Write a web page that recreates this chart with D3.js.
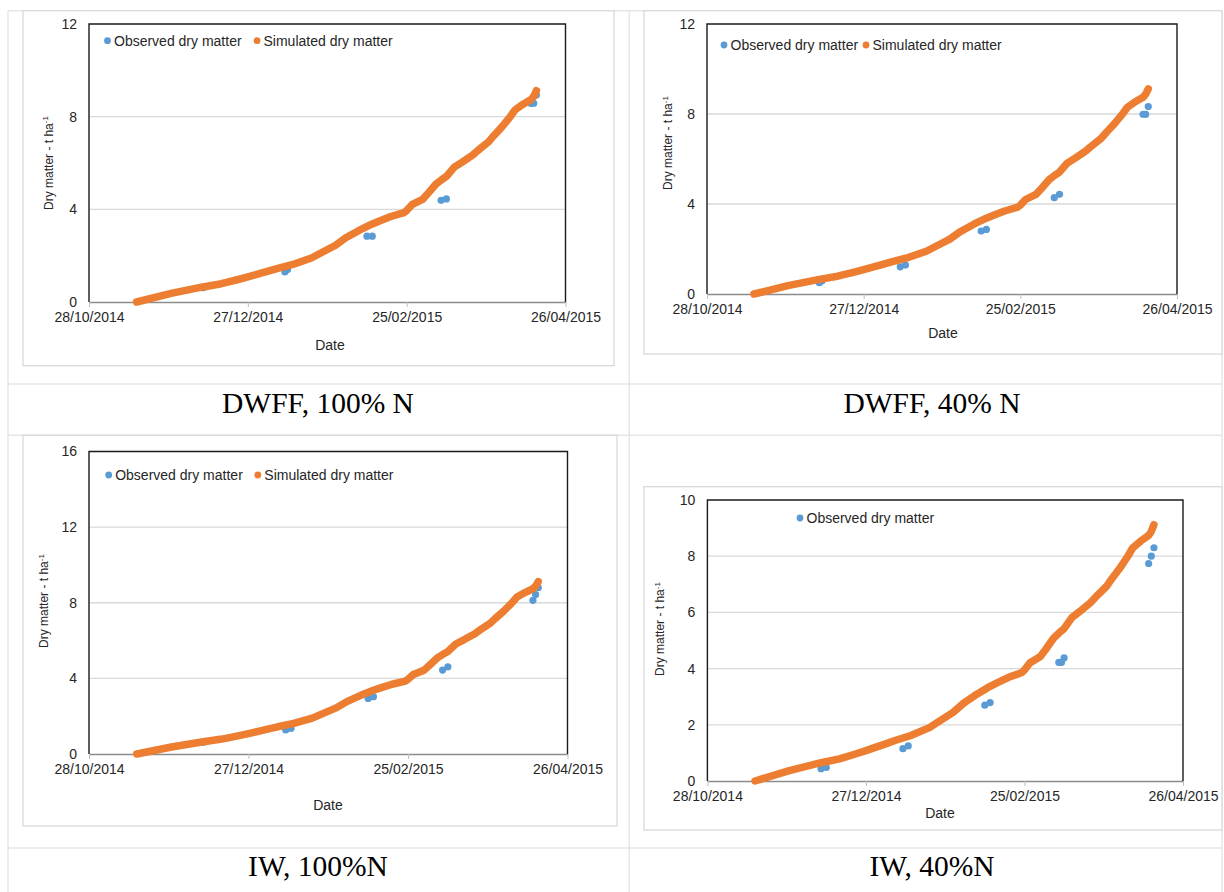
<!DOCTYPE html>
<html>
<head>
<meta charset="utf-8">
<script src="https://cdn.jsdelivr.net/npm/d3@7"></script>
<style>
  body { margin: 0; background: #fff; }
  svg text { font-family: 'Liberation Sans', Arial, sans-serif; fill: #262626; }
  svg text.caption { font-family: 'Liberation Serif', 'Times New Roman', serif; fill: #000; }
</style>
</head>
<body>
<div id="fig"></div>
<script>
'use strict'

// Simulated dry matter, t/ha (same model curve in every panel)
var sim_dates = ['2014-11-15','2014-11-28','2014-12-10','2014-12-17','2014-12-23','2014-12-27',
  '2015-01-04','2015-01-07','2015-01-13','2015-01-20','2015-01-25','2015-01-29','2015-02-02',
  '2015-02-07','2015-02-12','2015-02-15','2015-02-19','2015-02-24','2015-02-25','2015-02-27',
  '2015-03-03','2015-03-05','2015-03-08','2015-03-10','2015-03-12','2015-03-15','2015-03-18',
  '2015-03-22','2015-03-24','2015-03-28','2015-03-30','2015-04-02','2015-04-05','2015-04-07',
  '2015-04-10','2015-04-13','2015-04-14','2015-04-15']
var sim_values = [0.00, 0.37, 0.65, 0.79, 0.96, 1.08,
  1.34, 1.44, 1.62, 1.90, 2.20, 2.44, 2.77,
  3.09, 3.37, 3.51, 3.69, 3.86, 3.95, 4.20,
  4.43, 4.68, 5.08, 5.26, 5.42, 5.82, 6.04,
  6.35, 6.55, 6.92, 7.19, 7.56, 7.98, 8.30,
  8.54, 8.74, 8.88, 9.12]

// Observed dry matter, t/ha, one pair of arrays per treatment
var obs_dates_dwff100 = ['2014-12-10','2014-12-11','2015-01-10','2015-01-11','2015-02-10','2015-02-12',
  '2015-03-10','2015-03-12','2015-04-13','2015-04-14','2015-04-15']
var obs_values_dwff100 = [0.62, 0.66, 1.30, 1.40, 2.84, 2.84, 4.39, 4.45, 8.57, 8.58, 8.93]

var obs_dates_dwff40 = ['2014-12-10','2014-12-11','2015-01-10','2015-01-12','2015-02-10','2015-02-12',
  '2015-03-10','2015-03-12','2015-04-13','2015-04-14','2015-04-15']
var obs_values_dwff40 = [0.50, 0.58, 1.21, 1.29, 2.80, 2.87, 4.28, 4.43, 7.99, 7.99, 8.33]

var obs_dates_iw100 = ['2014-12-10','2014-12-11','2015-01-10','2015-01-12','2015-02-10','2015-02-12',
  '2015-03-10','2015-03-12','2015-04-13','2015-04-14','2015-04-15']
var obs_values_iw100 = [0.62, 0.65, 1.27, 1.36, 2.94, 3.03, 4.44, 4.61, 8.13, 8.43, 8.80]

var obs_dates_iw40 = ['2014-12-10','2014-12-12','2015-01-10','2015-01-12','2015-02-10','2015-02-12',
  '2015-03-10','2015-03-11','2015-03-12','2015-04-13','2015-04-14','2015-04-15']
var obs_values_iw40 = [0.44, 0.48, 1.15, 1.25, 2.70, 2.79, 4.22, 4.22, 4.38, 7.74, 8.00, 8.30]

// Axis ticks and labels
var date_ticks = ['2014-10-28','2014-12-27','2015-02-25','2015-04-26']
var y_ticks_12 = [0, 4, 8, 12]
var y_ticks_16 = [0, 4, 8, 12, 16]
var y_ticks_10 = [0, 2, 4, 6, 8, 10]
var legend_labels = ['Observed dry matter', 'Simulated dry matter']
var captions = ['DWFF, 100% N', 'DWFF, 40% N', 'IW, 100%N', 'IW, 40%N']

var C_OBS = '#5B9BD5'
var C_SIM = '#ED7D31'
var FS = 14   // horizontal chart text
var parse = d3.timeParse('%Y-%m-%d')

var svg = d3.select('#fig').append('svg')
  .attr('width', 1224)
  .attr('height', 892)

// Table grid behind the charts
//-----------------------------
var grid = svg.append('g').attr('stroke', '#e6e6e6').attr('stroke-width', 1.5)
;[10.7, 384, 435.3, 848].forEach(function(yy) {
  grid.append('line').attr('x1', 8).attr('x2', 1222).attr('y1', yy).attr('y2', yy)
})
;[8, 629.3, 1222].forEach(function(xx) {
  grid.append('line').attr('x1', xx).attr('x2', xx).attr('y1', 10.7).attr('y2', 892)
})

// One Excel-style scatter panel
//--------------------------------
function draw_panel( lay, obs_d, obs_v, ticks, caption, sim_in_legend) {
  var g = svg.append('g')

  var x = d3.scaleTime()
    .domain([parse(date_ticks[0]), parse(date_ticks[date_ticks.length - 1])])
    .range([lay.l, lay.r])
  var y = d3.scaleLinear()
    .domain([0, d3.max(ticks)])
    .range([lay.b, lay.t])

  // chart area border
  g.append('rect')
    .attr('x', lay.bx).attr('y', lay.by)
    .attr('width', lay.bw).attr('height', lay.bh)
    .attr('fill', '#fff').attr('stroke', '#d9d9d9').attr('stroke-width', 1.3)

  // horizontal gridlines
  g.append('g').selectAll('line')
    .data(ticks.slice(1, -1))
    .enter().append('line')
    .attr('x1', lay.l).attr('x2', lay.r)
    .attr('y1', function(d) { return y(d) })
    .attr('y2', function(d) { return y(d) })
    .attr('stroke', '#d9d9d9').attr('stroke-width', 1.3)

  // x axis
  var xa = g.append('g')
    .attr('transform', 'translate(0,' + lay.b + ')')
    .call(d3.axisBottom(x)
      .tickValues(date_ticks.map(parse))
      .tickFormat(d3.timeFormat('%d/%m/%Y'))
      .tickSize(5).tickSizeOuter(0).tickPadding(5))
  xa.select('.domain').attr('stroke', '#8c8c8c').attr('stroke-width', 1.3)
  xa.selectAll('.tick line').attr('stroke', '#bfbfbf')
  xa.selectAll('text').attr('font-size', FS).attr('fill', '#262626')

  // y axis
  var ya = g.append('g')
    .attr('transform', 'translate(' + lay.l + ',0)')
    .call(d3.axisLeft(y).tickValues(ticks).tickSize(0).tickPadding(12))
  ya.select('.domain').remove()
  ya.selectAll('text').attr('font-size', FS).attr('fill', '#262626')

  // plot frame (bottom edge is the axis line)
  var frame = d3.path()
  frame.moveTo(lay.l, lay.b)
  frame.lineTo(lay.l, lay.t)
  frame.lineTo(lay.r, lay.t)
  frame.lineTo(lay.r, lay.b)
  g.append('path').attr('d', frame.toString())
    .attr('fill', 'none').attr('stroke', '#1a1a1a').attr('stroke-width', 1.4)

  // observed points
  g.append('g').selectAll('circle')
    .data(obs_d.map(function(d, i) { return [parse(d), obs_v[i]] }))
    .enter().append('circle')
    .attr('cx', function(d) { return x(d[0]) })
    .attr('cy', function(d) { return y(d[1]) })
    .attr('r', 3.6)
    .attr('fill', C_OBS)

  // simulated run, drawn on top as a dense marker trail
  var line = d3.line()
    .x(function(d) { return x(d[0]) })
    .y(function(d) { return y(d[1]) })
  g.append('path')
    .datum(sim_dates.map(function(d, i) { return [parse(d), sim_values[i]] }))
    .attr('d', line)
    .attr('fill', 'none').attr('stroke', C_SIM)
    .attr('stroke-width', 7.5)
    .attr('stroke-linecap', 'round').attr('stroke-linejoin', 'round')

  // legend
  var leg = [[legend_labels[0], C_OBS, lay.lg_obs]]
  if (sim_in_legend) leg.push([legend_labels[1], C_SIM, lay.lg_sim])
  leg.forEach(function(it) {
    g.append('circle').attr('cx', it[2]).attr('cy', lay.lg_y).attr('r', 3.4).attr('fill', it[1])
    g.append('text').attr('x', it[2] + 6.5).attr('y', lay.lg_y + 5)
      .attr('font-size', FS).text(it[0])
  })

  // axis titles
  g.append('text').attr('x', lay.dx).attr('y', lay.dy + 5)
    .attr('text-anchor', 'middle').attr('font-size', FS).text('Date')
  var yt = g.append('text')
    .attr('transform', 'translate(' + lay.yx + ',' + lay.yy + ') rotate(-90)')
    .attr('text-anchor', 'middle').attr('dy', '0.35em').attr('font-size', 12)
  yt.append('tspan').text('Dry matter - t ha')
  yt.append('tspan').attr('font-size', 8).attr('dy', '-0.55em').text('-1')

  // caption in the table row below
  svg.append('text').attr('class', 'caption')
    .attr('x', lay.cx).attr('y', lay.cy)
    .attr('text-anchor', 'middle').attr('font-size', 29.5)
    .text(caption)
} // draw_panel()

draw_panel({ bx: 23, by: 10.7, bw: 591, bh: 355, l: 89, t: 24, r: 565.5, b: 302,
  lg_y: 40.7, lg_obs: 107.5, lg_sim: 257, dx: 330, dy: 345, yx: 48.6, yy: 163, cx: 318, cy: 413 },
  obs_dates_dwff100, obs_values_dwff100, y_ticks_12, captions[0], true)

draw_panel({ bx: 644, by: 10.7, bw: 578, bh: 343.3, l: 707, t: 24, r: 1177, b: 294,
  lg_y: 45, lg_obs: 724, lg_sim: 866, dx: 943, dy: 333, yx: 668, yy: 143, cx: 932, cy: 413 },
  obs_dates_dwff40, obs_values_dwff40, y_ticks_12, captions[1], true)

draw_panel({ bx: 23, by: 435.3, bw: 594, bh: 390.7, l: 89, t: 451.5, r: 567.5, b: 754,
  lg_y: 475, lg_obs: 108.7, lg_sim: 257.8, dx: 328, dy: 805, yx: 44, yy: 601, cx: 318, cy: 876 },
  obs_dates_iw100, obs_values_iw100, y_ticks_16, captions[2], true)

draw_panel({ bx: 644, by: 486.7, bw: 578, bh: 343.3, l: 707.4, t: 500, r: 1183, b: 781,
  lg_y: 518, lg_obs: 800, lg_sim: 0, dx: 940, dy: 813, yx: 660, yy: 629, cx: 932, cy: 876 },
  obs_dates_iw40, obs_values_iw40, y_ticks_10, captions[3], false)
</script>
</body>
</html>
